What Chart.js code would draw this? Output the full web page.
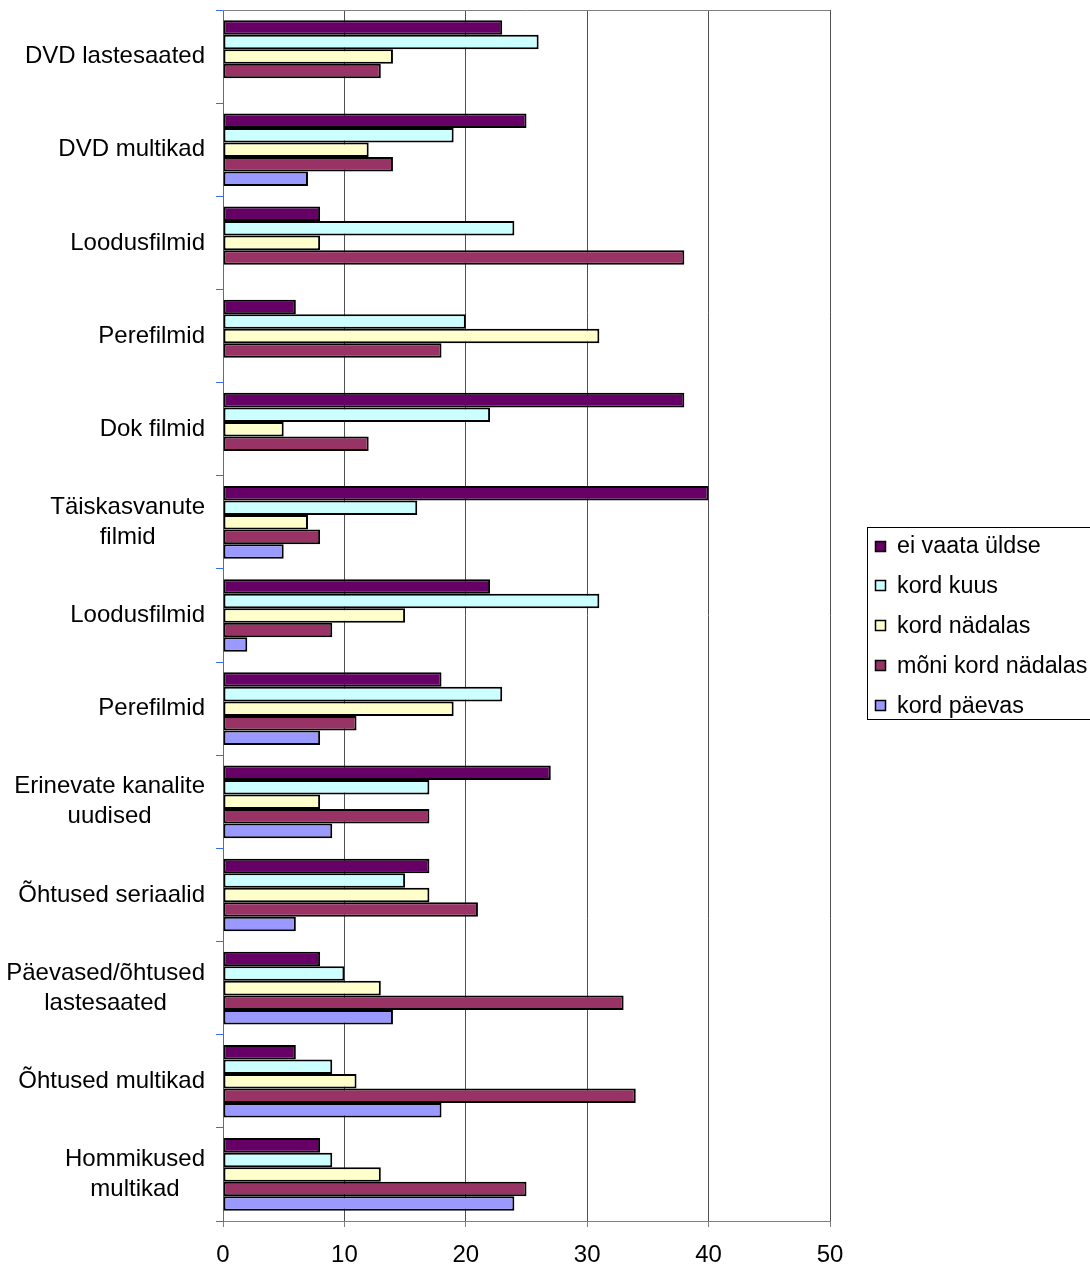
<!DOCTYPE html>
<html>
<head>
<meta charset="utf-8">
<script src="https://cdn.jsdelivr.net/npm/chart.js@4/dist/chart.umd.min.js"></script>
<style>
html,body{margin:0;padding:0;background:#fff;}
#wrap{width:1090px;height:1268px;position:relative;}
</style>
</head>
<body>
<div id="wrap"><canvas id="c" width="1090" height="1268"></canvas></div>
<script>
const categories = [
  "DVD lastesaated", "DVD multikad", "Loodusfilmid", "Perefilmid", "Dok filmid",
  ["Täiskasvanute", "filmid"], "Loodusfilmid", "Perefilmid",
  ["Erinevate kanalite", "uudised"], "Õhtused seriaalid",
  ["Päevased/õhtused", "lastesaated"], "Õhtused multikad", ["Hommikused", "multikad"]
];
const seriesNames = ["ei vaata üldse", "kord kuus", "kord nädalas", "mõni kord nädalas", "kord päevas"];
const eiVaata     = [23, 25, 8, 6, 38, 40, 22, 18, 27, 17, 8, 6, 8];
const kordKuus    = [26, 19, 24, 20, 22, 16, 31, 23, 17, 15, 10, 9, 9];
const kordNadalas = [14, 12, 8, 31, 5, 7, 15, 19, 8, 17, 13, 11, 13];
const moniKord    = [13, 14, 38, 18, 12, 8, 9, 11, 17, 21, 33, 34, 25];
const kordPaevas  = [null, 7, null, null, null, 5, 2, 8, 9, 6, 14, 18, 24];
const xTicks = [0, 10, 20, 30, 40, 50];

const colors = ["#660066", "#CCFFFF", "#FFFFCC", "#993366", "#9999FF"];
const seriesData = [eiVaata, kordKuus, kordNadalas, moniKord, kordPaevas];
const FONT = "Liberation Sans, Arial, sans-serif";
const FS = 24;
const LFS = 23.3;

const labelPlugin = {
  id: 'catLabels',
  afterDraw(chart) {
    const ctx = chart.ctx;
    const ys = chart.scales.y;
    ctx.save();
    ctx.font = FS + "px " + FONT;
    ctx.fillStyle = "#000";
    ctx.textAlign = "center";
    ctx.textBaseline = "middle";
    const rightEdge = 205;
    const lh = 30;
    categories.forEach((lab, i) => {
      const lines = Array.isArray(lab) ? lab : [lab];
      const w = Math.max(...lines.map(l => ctx.measureText(l).width));
      const cx = rightEdge - w / 2;
      const cy = ys.getPixelForValue(i);
      const start = cy - (lines.length - 1) * lh / 2;
      lines.forEach((l, k) => ctx.fillText(l, cx, start + k * lh));
    });
    // top border of plot area
    const a = chart.chartArea;
    ctx.strokeStyle = "#808080";
    ctx.lineWidth = 1;
    ctx.beginPath();
    ctx.moveTo(a.left, Math.round(a.top) + 0.5);
    ctx.lineTo(a.right, Math.round(a.top) + 0.5);
    ctx.stroke();
    // legend
    ctx.strokeStyle = "#000";
    ctx.strokeRect(867.5, 527.5, 240, 192);
    ctx.textAlign = "left";
    ctx.font = LFS + "px " + FONT;
    chart.data.datasets.forEach((ds, i) => {
      const y = 546 + i * 39.8;
      const top = Math.round(y - 5.5);
      ctx.fillStyle = ds.backgroundColor;
      ctx.fillRect(875, top, 11, 11);
      ctx.lineWidth = 1.5;
      ctx.strokeRect(875.5, top + 0.5, 10, 10);
      ctx.fillStyle = "#000";
      ctx.fillText(ds.label, 897, y + 1);
    });
    ctx.restore();
  }
};

new Chart(document.getElementById('c'), {
  type: 'bar',
  data: {
    labels: categories,
    datasets: seriesNames.map((n, i) => ({
      label: n,
      data: seriesData[i],
      backgroundColor: colors[i],
      borderColor: "#000",
      borderWidth: 2,
      borderSkipped: false,
      barPercentage: 1,
      categoryPercentage: 0.78
    }))
  },
  options: {
    indexAxis: 'y',
    responsive: false,
    animation: false,
    devicePixelRatio: 1,
    layout: { padding: { top: 10, right: 260, bottom: 0, left: 0 } },
    plugins: { legend: { display: false }, tooltip: { enabled: false } },
    scales: {
      x: {
        min: 0, max: 50,
        afterBuildTicks(s) { s.ticks = xTicks.map(v => ({ value: v })); },
        afterFit(s) { s.height = 47; },
        grid: { color: "#505050", lineWidth: 1, tickLength: 6, tickColor: "#808080" },
        border: { color: "#808080" },
        ticks: { font: { family: FONT, size: FS }, color: "#000", padding: 14, maxRotation: 0 }
      },
      y: {
        afterFit(s) { s.width = 223; },
        grid: { drawOnChartArea: false, offset: true, tickLength: 7, color: "#3a6ee8", tickColor: "#3a6ee8", lineWidth: 1 },
        border: { color: "#3a6ee8" },
        ticks: { display: false }
      }
    }
  },
  plugins: [labelPlugin]
});
</script>
</body>
</html>
